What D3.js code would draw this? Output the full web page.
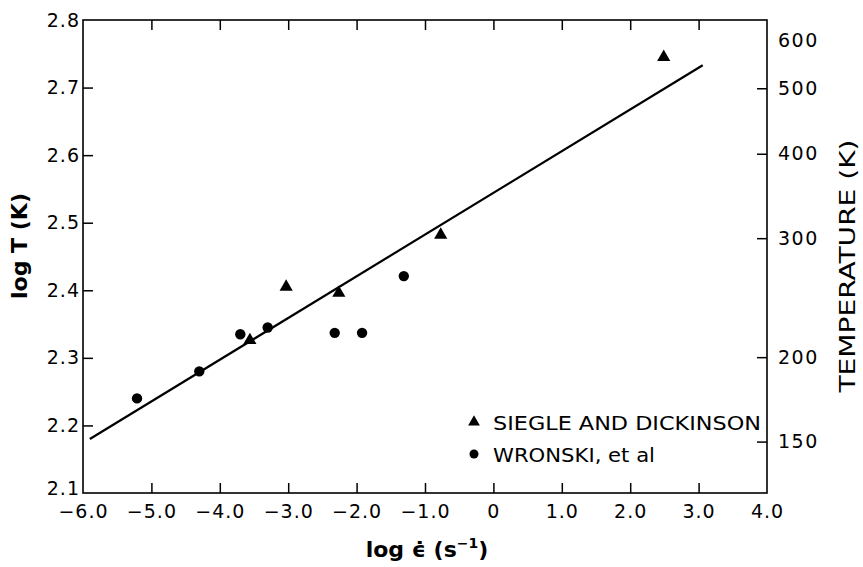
<!DOCTYPE html>
<html><head><meta charset="utf-8">
<script src="https://cdn.jsdelivr.net/npm/d3@7"></script>
<style>body{margin:0;background:#fff}svg{display:block}text{font-family:"DejaVu Sans",sans-serif;fill:#000}</style>
</head><body><svg id="c" width="863" height="567"></svg>
<script>
const xTicks = [-6, -5, -4, -3, -2, -1, 0, 1, 2, 3, 4];
const xTickLabels = ["−6.0","−5.0","−4.0","−3.0","−2.0","−1.0","0","1.0","2.0","3.0","4.0"];
const yTicks = [2.1, 2.2, 2.3, 2.4, 2.5, 2.6, 2.7, 2.8];
const tempTicks = [600, 500, 400, 300, 200, 150];
const siegleX = [-3.56, -3.03, -2.26, -0.77, 2.49];
const siegleY = [2.326, 2.405, 2.396, 2.482, 2.745];
const wronskiX = [-5.21, -4.30, -3.70, -3.30, -2.32, -1.92, -1.31];
const wronskiY = [2.240, 2.280, 2.335, 2.345, 2.337, 2.337, 2.421];
const fitX = [-5.9, 3.06];
const fitY = [2.180, 2.733];
const legendLabels = ["SIEGLE AND DICKINSON", "WRONSKI, et al"];

const svg = d3.select("#c");
const L = 83, R = 767, T = 20, B = 493;
const x = d3.scaleLinear().domain([-6, 4]).range([L, R]);
const y = d3.scaleLinear().domain([2.1, 2.8]).range([B, T]);
const yT = d3.scaleLog().domain([Math.pow(10, 2.1), Math.pow(10, 2.8)]).range([B, T]);

// frame
svg.append("rect").attr("x", L).attr("y", T).attr("width", R - L).attr("height", B - T)
  .attr("fill", "none").attr("stroke", "#000").attr("stroke-width", 1.6);

// bottom axis
const gB = svg.append("g").attr("transform", `translate(0,${B})`)
  .call(d3.axisBottom(x).tickValues(xTicks).tickSize(-10).tickPadding(12)
    .tickFormat((d, i) => xTickLabels[i]));
gB.select(".domain").remove();
gB.selectAll(".tick line").attr("stroke-width", 1.5).filter(d => d === -6 || d === 4).remove();
gB.selectAll("text").attr("font-size", 19).attr("letter-spacing", 1).attr("font-family", "DejaVu Sans");

// top ticks
const gT = svg.append("g").attr("transform", `translate(0,${T})`)
  .call(d3.axisTop(x).tickValues(xTicks.filter(d => d > -6 && d < 4)).tickSize(-10).tickFormat(""));
gT.select(".domain").remove();
gT.selectAll(".tick line").attr("stroke-width", 1.5);

// left axis
const gL = svg.append("g").attr("transform", `translate(${L},0)`)
  .call(d3.axisLeft(y).tickValues(yTicks).tickSize(-10).tickPadding(3).tickFormat(d3.format(".1f")));
gL.select(".domain").remove();
gL.selectAll(".tick line").attr("stroke-width", 1.5).filter(d => d === 2.1 || d === 2.8).remove();
gL.selectAll("text").attr("font-size", 19).attr("letter-spacing", 1).attr("font-family", "DejaVu Sans");
gL.selectAll(".tick").filter(d => d === 2.1).select("text").attr("dy", "0.1em");

// right axis
const gR = svg.append("g").attr("transform", `translate(${R},0)`)
  .call(d3.axisRight(yT).tickValues(tempTicks).tickSize(-10).tickPadding(11).tickFormat(d3.format("d")));
gR.select(".domain").remove();
gR.selectAll(".tick line").attr("stroke-width", 1.5).filter(d => d === 600).remove();
gR.selectAll("text").attr("font-size", 19).attr("letter-spacing", 1.5).attr("font-family", "DejaVu Sans");
gR.selectAll(".tick").filter(d => d === 600).select("text").attr("dy", "0.6em");

// fit line
svg.append("path").datum(fitX.map((d, i) => [d, fitY[i]]))
  .attr("d", d3.line().x(d => x(d[0])).y(d => y(d[1])))
  .attr("stroke", "#000").attr("stroke-width", 2.2).attr("fill", "none");

// points
const tri = d3.symbol().type(d3.symbolTriangle).size(75);
svg.selectAll(".tri").data(siegleX.map((d, i) => [d, siegleY[i]])).join("path")
  .attr("transform", d => `translate(${x(d[0])},${y(d[1])})`).attr("d", tri).attr("fill", "#000");
svg.selectAll(".dot").data(wronskiX.map((d, i) => [d, wronskiY[i]])).join("circle")
  .attr("cx", d => x(d[0])).attr("cy", d => y(d[1])).attr("r", 5.2).attr("fill", "#000");

// legend
const lg = svg.append("g");
lg.append("path").attr("transform", "translate(474,422)").attr("d", d3.symbol().type(d3.symbolTriangle).size(60)).attr("fill", "#000");
lg.append("circle").attr("cx", 474).attr("cy", 454).attr("r", 4.5).attr("fill", "#000");
lg.append("text").attr("x", 493).attr("y", 430).attr("font-size", 19).attr("textLength", 268).attr("lengthAdjust", "spacingAndGlyphs").text(legendLabels[0]);
lg.append("text").attr("x", 493).attr("y", 462).attr("font-size", 19).attr("textLength", 162).attr("lengthAdjust", "spacingAndGlyphs").text(legendLabels[1]);

// axis titles
svg.append("text").attr("transform", "translate(27,246) rotate(-90)").attr("text-anchor", "middle")
  .attr("font-size", 22).attr("font-weight", "bold").text("log T (K)");
const xt = svg.append("text").attr("x", 427).attr("y", 557).attr("text-anchor", "middle")
  .attr("font-size", 22).attr("font-weight", "bold");
xt.append("tspan").text("log ϵ\u0307  (s");
xt.append("tspan").attr("dy", -9).attr("font-size", 14).text("−1");
xt.append("tspan").attr("dy", 9).text(")");
svg.append("text").attr("transform", "translate(855,266) rotate(-90)").attr("text-anchor", "middle")
  .attr("font-size", 21).attr("textLength", 253).attr("lengthAdjust", "spacingAndGlyphs").text("TEMPERATURE (K)");
</script></body></html>
